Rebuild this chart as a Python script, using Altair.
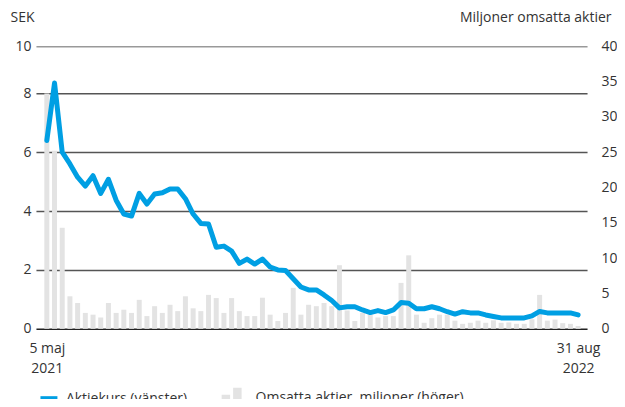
import altair as alt
import pandas as pd

# ---- data (weekly, 5 maj 2021 – 31 aug 2022) ----
price = [6.4, 8.35, 6.0, 5.6, 5.15, 4.85, 5.2, 4.6, 5.08, 4.37,
         3.9, 3.83, 4.6, 4.24, 4.58, 4.62, 4.75, 4.75, 4.42, 3.9,
         3.58, 3.56, 2.77, 2.81, 2.64, 2.22, 2.37, 2.2, 2.37, 2.1,
         2.0, 1.98, 1.7, 1.42, 1.32, 1.32, 1.15, 0.96, 0.71, 0.75,
         0.75, 0.64, 0.55, 0.62, 0.55, 0.64, 0.89, 0.87, 0.68, 0.68,
         0.75, 0.68, 0.58, 0.5, 0.58, 0.54, 0.54, 0.47, 0.42, 0.37,
         0.37, 0.37, 0.37, 0.44, 0.59, 0.54, 0.54, 0.54, 0.54, 0.47]
volume = [33.3, 25.2, 14.3, 4.6, 3.65, 2.25, 2.0, 1.6, 3.65, 2.25,
          2.7, 2.25, 4.1, 1.8, 3.2, 2.25, 3.4, 2.5, 4.6, 2.9,
          2.5, 4.8, 4.35, 2.25, 4.35, 2.5, 1.8, 1.8, 4.4, 2.0,
          1.1, 2.25, 5.8, 2.0, 3.4, 3.2, 3.65, 3.2, 9.0, 2.6,
          1.1, 2.25, 2.0, 1.6, 1.8, 1.8, 6.5, 10.4, 2.0, 0.85,
          1.5, 2.0, 2.0, 1.15, 0.7, 0.85, 1.15, 0.85, 1.2, 0.85,
          0.9, 0.7, 0.7, 1.35, 4.8, 1.15, 1.3, 0.8, 0.7, 0.4]
weeks = list(range(len(price)))

start_label = ["5 maj", "2021"]
end_label = ["31 aug", "2022"]
left_ticks = [0, 2, 4, 6, 8, 9.6]
right_ticks = [0, 5, 10, 15, 20, 25, 30, 35, 40]
line_name = "Aktiekurs (vänster)"
bar_name = "Omsatta aktier, miljoner (höger)"

df = pd.DataFrame({
    "week": weeks,
    "price": price,
    "volume": volume,
    "s_line": [line_name] * len(weeks),
    "s_bar": [bar_name] * len(weeks),
})

FONT = "Open Sans"
TXT = "#333333"
BLUE = "#009FE3"
GRAY = "#E3E3E3"

x_expr = ("datum.value == 0 ? ['%s', '%s'] : ['%s', '%s']"
          % (start_label[0], start_label[1], end_label[0], end_label[1]))

x = alt.X("week:Q",
          scale=alt.Scale(domain=[-0.764, 69.51], nice=False, zero=False),
          axis=alt.Axis(values=[0, 69], labelExpr=x_expr, title=None,
                        grid=False, ticks=False, domain=False,
                        labelFont=FONT, labelFontSize=14, labelColor=TXT,
                        labelPadding=13, labelLineHeight=20,
                        labelAlign="center", labelFlush=False))

bars = alt.Chart(df).mark_bar(width=5).encode(
    x=x,
    y=alt.Y("volume:Q",
            scale=alt.Scale(domain=[0, 40], nice=False),
            axis=alt.Axis(orient="right", values=right_ticks, grid=False,
                          ticks=False, domain=False,
                          title="Miljoner omsatta aktier", titleAngle=0,
                          titleAlign="right", titleBaseline="middle",
                          titleX=24, titleY=-29, titleFont=FONT,
                          titleFontSize=14, titleFontWeight="normal",
                          titleColor=TXT, labelFont=FONT, labelFontSize=14,
                          labelColor=TXT, labelPadding=14)),
    fill=alt.Fill("s_bar:N",
                  scale=alt.Scale(domain=[bar_name], range=[GRAY]),
                  legend=alt.Legend(orient="none", legendX=186, legendY=342,
                                    title=None, padding=0, labelLimit=400,
                                    symbolType="M-1 1 V-0.3 H-0.15 V1 Z M0.15 1 V-1 H1 V1 Z",
                                    symbolSize=400, symbolStrokeWidth=0,
                                    labelFont=FONT, labelFontSize=14,
                                    labelColor=TXT, labelOffset=14)),
)

line = alt.Chart(df).mark_line(strokeWidth=5, strokeJoin="round",
                               strokeCap="round").encode(
    x=x,
    y=alt.Y("price:Q",
            scale=alt.Scale(domain=[0, 9.6], nice=False),
            axis=alt.Axis(orient="left", values=left_ticks,
                          labelExpr="datum.value > 9 ? '10' : datum.label",
                          grid=True,
                          gridColor={"condition": [
                              {"test": "datum.value == 0", "value": "#222222"},
                              {"test": "datum.value > 9", "value": "#999999"}],
                              "value": "#555555"},
                          gridWidth=1.5, ticks=False, domain=False,
                          title="SEK", titleAngle=0, titleAlign="left",
                          titleBaseline="middle", titleX=-26, titleY=-29,
                          titleFont=FONT, titleFontSize=14,
                          titleFontWeight="normal", titleColor=TXT,
                          labelFont=FONT, labelFontSize=14, labelColor=TXT,
                          labelPadding=5)),
    stroke=alt.Stroke("s_line:N",
                      scale=alt.Scale(domain=[line_name], range=[BLUE]),
                      legend=alt.Legend(orient="none", legendX=2, legendY=342,
                                        title=None, padding=0, labelLimit=400,
                                        symbolType="stroke",
                                        symbolStrokeWidth=5, symbolSize=289,
                                        labelFont=FONT, labelFontSize=14,
                                        labelColor=TXT, labelOffset=6)),
)

chart = alt.layer(bars, line).resolve_scale(
    y="independent", fill="independent", stroke="independent"
).properties(
    width=552, height=283,
    autosize=alt.AutoSizeParams(type="none"),
    padding={"left": 28, "top": 38, "right": 30, "bottom": 70},
    background="white",
).configure_view(strokeWidth=0)

chart.save("out.html", embed_options={"renderer": "svg", "actions": False})
